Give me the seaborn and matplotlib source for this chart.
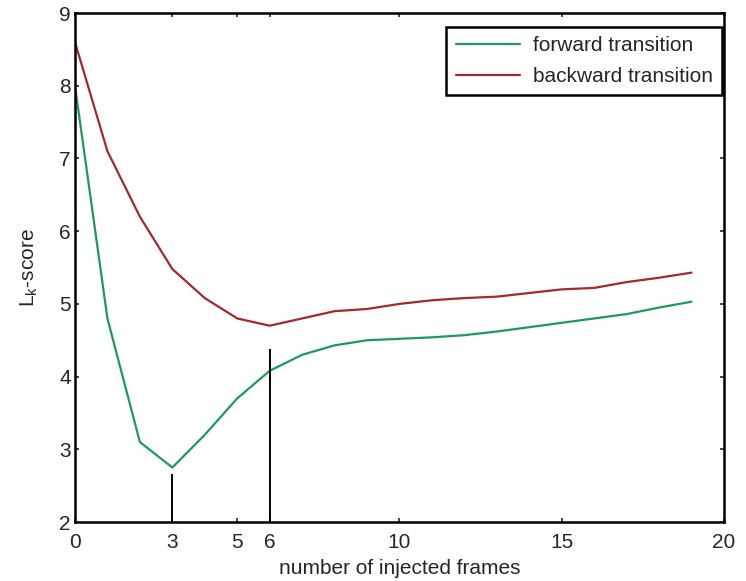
import numpy as np
import pandas as pd
import matplotlib
matplotlib.use('Agg')
import matplotlib.pyplot as plt
import seaborn as sns

# values
frames = list(range(20))
forward = [8.0, 4.8, 3.1, 2.75, 3.2, 3.7, 4.08, 4.3, 4.43, 4.5,
           4.52, 4.54, 4.57, 4.62, 4.68, 4.74, 4.8, 4.86, 4.95, 5.03]
backward = [8.6, 7.1, 6.2, 5.48, 5.08, 4.8, 4.7, 4.8, 4.9, 4.93,
            5.0, 5.05, 5.08, 5.1, 5.15, 5.2, 5.22, 5.3, 5.36, 5.43]
marker_x = [3, 6]
marker_top = [2.66, 4.38]
xticks = [0, 3, 5, 6, 10, 15, 20]

sns.set_style('ticks')
plt.rcParams['font.family'] = ['Liberation Sans', 'DejaVu Sans']

df = pd.DataFrame({
    'frames': frames * 2,
    'score': forward + backward,
    'series': ['forward transition'] * len(frames) + ['backward transition'] * len(frames),
})

fig = plt.figure(figsize=(7.46, 5.81), dpi=100)
ax = fig.add_axes([0.1005, 0.1015, 0.870, 0.876])

sns.lineplot(data=df, x='frames', y='score', hue='series',
             palette={'forward transition': '#1b9a5c', 'backward transition': '#a3292b'},
             linewidth=1.6, ax=ax)

# vertical markers at the minima
ax.vlines(marker_x, 2, marker_top, colors='black', linewidth=1.4)

ax.set_xlim(0, 20)
ax.set_ylim(2, 9)
ax.set_xticks(xticks)
ax.set_yticks(range(2, 10))
ax.tick_params(direction='in', top=True, right=True, labelsize=15, length=3, width=1.2)
ax.tick_params(axis='x', pad=8)
ax.tick_params(axis='y', pad=3)
for s in ax.spines.values():
    s.set_visible(True)
    s.set_linewidth(1.8)
    s.set_color('black')

ax.set_xlabel('number of injected frames', fontsize=15, labelpad=5)
ax.set_ylabel(r'L$_\mathregular{k}$-score', fontsize=15, labelpad=14)

leg = ax.legend(loc='upper right', fontsize=15, frameon=True, fancybox=False,
                bbox_to_anchor=(0.997, 0.9725), borderaxespad=0, borderpad=0.45,
                handlelength=3.1, labelspacing=0.55, handletextpad=0.6)
leg.get_frame().set_edgecolor('black')
leg.get_frame().set_linewidth(1.8)
leg.get_frame().set_alpha(1)

fig.savefig('out.png', dpi=100)
